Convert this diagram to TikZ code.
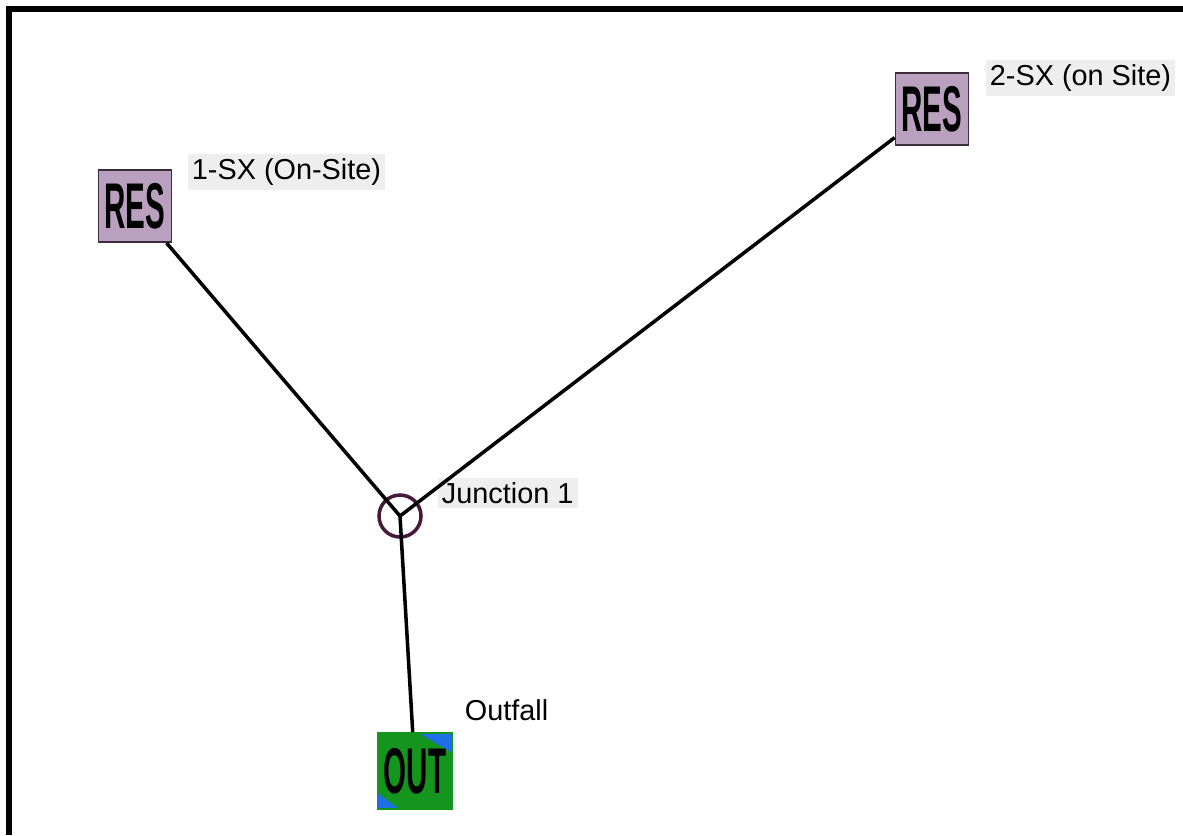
\documentclass[tikz,border=0pt]{standalone}
\usepackage{fontspec}
\setmainfont{Liberation Sans}
\usepackage{xcolor}
\usetikzlibrary{calc, positioning}
\definecolor{resfill}{RGB}{184,160,190}
\definecolor{resline}{RGB}{60,45,60}
\definecolor{outfill}{RGB}{20,150,30}
\definecolor{outblue}{RGB}{30,110,230}
\definecolor{juncline}{RGB}{70,25,60}
\definecolor{labelfill}{RGB}{238,238,238}
\tikzset{
  resbox/.style={
    draw=resline, line width=0.5pt, fill=resfill,
    minimum width=0.73cm, minimum height=0.72cm, inner sep=0pt
  },
  outbox/.style={
    draw=outfill, line width=0.45pt, fill=outfill,
    minimum width=0.75cm, minimum height=0.76cm, inner sep=0pt,
    path picture={
      \fill[outblue] ($(path picture bounding box.north east)+(-34,0)$)
        -- (path picture bounding box.north east) -- ++(0,20) -- cycle;
      \fill[outblue] ($(path picture bounding box.south west)+(0,-16)$)
        -- (path picture bounding box.south west) -- ++(22,0) -- cycle;
    }
  },
  junccircle/.style={
    circle, draw=juncline, line width=1pt, minimum size=0.42cm, inner sep=0pt
  },
  sitelabel/.style={
    fill=labelfill, inner sep=1.2pt, anchor=west,
    font=\fontsize{8.2}{10}\selectfont
  },
  pipe/.style={line width=1pt, black},
}
\newcommand{\iconword}[1]{\scalebox{0.48}[1.05]{\fontsize{17.5}{17.5}\selectfont\bfseries #1}}

\begin{document}
\begin{tikzpicture}[x=0.01cm, y=-0.01cm]
  \useasboundingbox (0,0) rectangle (1183,835);

  % === Window frame ===
  \draw[line width=1.7pt] (9,835) -- (9,9) -- (1183,9);

  % === Nodes ===
  \node[resbox] (res1) at (135,206) {\iconword{RES}};
  \node[resbox] (res2) at (932,109) {\iconword{RES}};
  \node[junccircle] (junc) at (400,516) {};
  \node[outbox] (outfall) at (415,771) {\iconword{OUT}};

  % === Labels ===
  \node[sitelabel] (res1lbl) at (187,172) {1-SX (On-Site)};
  \node[sitelabel] (res2lbl) at (985,78) {2-SX (on Site)};
  \node[sitelabel] (junclbl) at (437,493) {Junction 1};
  \node[sitelabel, fill=white] (outlbl) at (460,710) {Outfall};

  % === Conduits ===
  \draw[pipe] (res1) -- (junc.center);
  \draw[pipe] (res2) -- (junc.center);
  \draw[pipe] (junc.center) -- (outfall);

\end{tikzpicture}
\end{document}
